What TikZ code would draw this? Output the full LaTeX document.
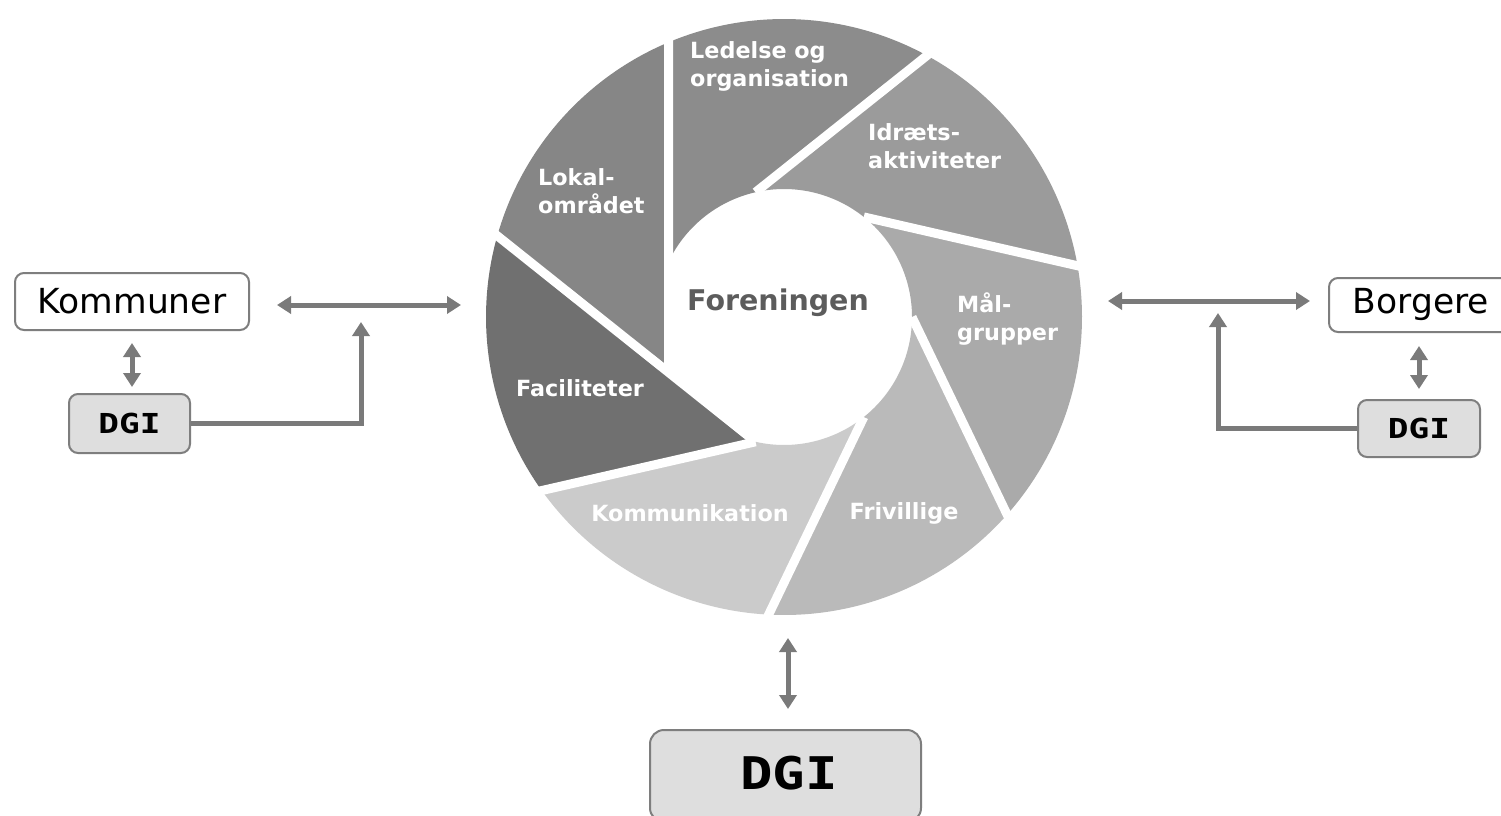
\documentclass[tikz,border=0pt]{standalone}
\usepackage{fontspec}
\setmainfont{DejaVu Sans}
\newfontfamily\dgifont{DejaVu Sans Mono}
\usetikzlibrary{arrows.meta,calc}
\definecolor{cLed}{HTML}{8C8C8C}
\definecolor{cIdr}{HTML}{9B9B9B}
\definecolor{cMal}{HTML}{AAAAAA}
\definecolor{cFri}{HTML}{BABABA}
\definecolor{cKom}{HTML}{CBCBCB}
\definecolor{cFac}{HTML}{707070}
\definecolor{cLok}{HTML}{868686}
\definecolor{arr}{HTML}{7A7A7A}
\definecolor{bgray}{HTML}{7E7E7E}
\definecolor{dgifill}{HTML}{DEDEDE}
\definecolor{fgray}{HTML}{5C5C5C}
\begin{document}
\begin{tikzpicture}[x=1pt,y=-1pt,
  box/.style={draw=bgray, line width=2pt, rounded corners=9pt, fill=white, inner sep=0pt},
  dgibox/.style={box, fill=dgifill},
  dbl/.style={draw=arr, line width=5pt, {Triangle[width=17pt,length=14pt]}-{Triangle[width=17pt,length=14pt]}},
  sgl/.style={draw=arr, line width=5pt, -{Triangle[width=17pt,length=14pt]}},
  blab/.style={text=white, font=\bfseries\fontsize{22.3}{28}\selectfont, align=left, inner sep=0pt},
  boxtext/.style={font=\fontsize{34.5}{40}\selectfont, text=black}
]
\useasboundingbox (0,0) rectangle (1501,816);
\clip (0,0) rectangle (1501,816);
\fill[white] (0,0) rectangle (1501,816);

\coordinate (C) at (784,317);

% blade tips and outer points
\foreach \k in {1,...,7}{
  \pgfmathsetmacro\n{180+(\k-1)*360/7}
  \pgfmathsetmacro\sa{\n+25.714}
  \pgfmathsetmacro\pa{\n+67.24}
  \coordinate (S\k) at ($(C)+(\sa:128)$);
  \coordinate (P\k) at ($(C)+(\pa:298)$);
}

% blades (inner edge: arc of the hole, or straight for the two left blades)
\foreach \k/\col/\st in {1/cLed/0,2/cIdr/0,3/cMal/0,4/cFri/0,5/cKom/0,6/cFac/1,7/cLok/1}{
  \pgfmathsetmacro\n{180+(\k-1)*360/7}
  \pgfmathsetmacro\m{\n+360/7}
  \pgfmathsetmacro\sa{\n+25.714}
  \pgfmathsetmacro\pa{\n+67.24}
  \pgfmathsetmacro\pb{\m+67.24}
  \pgfmathsetmacro\sb{\m+25.714}
  \ifnum\st=1
    \fill[\col] ($(C)+(\sa:128)$) -- ($(C)+(\pa:298)$)
       arc[start angle=\pa, end angle=\pb, radius=298]
       -- ($(C)+(\sb:128)$) -- cycle;
  \else
    \fill[\col] ($(C)+(\sa:128)$) -- ($(C)+(\pa:298)$)
       arc[start angle=\pa, end angle=\pb, radius=298]
       -- ($(C)+(\sb:128)$)
       arc[start angle=\sb, end angle=\sa, radius=128] -- cycle;
  \fi
}
% separators
\foreach \k in {2,...,6}{
  \draw[white, line width=9pt] (S\k) -- ($(S\k)!1.06!(P\k)$);
}
\draw[white, line width=9pt] (S7) -- ($(S1)!1.06!(P1)$);
\draw[white, line width=9pt] (S6) -- ($(S7)!1.06!(P7)$);

% blade labels
\node[blab, anchor=west] (led) at (690,66) {Ledelse og\\organisation};
\node[blab, anchor=west] (idr) at (868,146) {Idræts-\\aktiviteter};
\node[blab, anchor=west] (mal) at (957,319) {Mål-\\grupper};
\node[blab, anchor=west] (lok) at (538,191) {Lokal-\\området};
\node[blab] (fac) at (580,388) {Faciliteter};
\node[blab] (kmk) at (690,513) {Kommunikation};
\node[blab] (fri) at (904,513) {Frivillige};
\node[text=fgray, font=\bfseries\fontsize{28.5}{32}\selectfont, inner sep=0pt] (for) at (778,303) {Foreningen};

% boxes
\node[box, boxtext, minimum width=234pt, minimum height=57pt] (kom) at (132,301.5) {Kommuner};
\node[box, boxtext, minimum width=184pt, minimum height=54pt] (bor) at (1421,305) {Borgere};
\node[dgibox, minimum width=121pt, minimum height=59pt] (dgil) at (129.5,423.5) {\scalebox{1.25}[1]{\dgifont\bfseries\fontsize{27.5}{28}\selectfont DGI}};
\node[dgibox, minimum width=122pt, minimum height=57pt] (dgir) at (1419,428.5) {\scalebox{1.25}[1]{\dgifont\bfseries\fontsize{27.5}{28}\selectfont DGI}};
\node[dgibox, minimum width=271pt, minimum height=92pt, rounded corners=14pt] (dgib) at (785.5,776) {};
\node[inner sep=0pt] (dgibt) at (789,773) {\scalebox{1.2}[1]{\dgifont\bfseries\fontsize{45}{46}\selectfont DGI}};

% connectors
\coordinate (hl1) at (277,305);
\coordinate (hl2) at (461,305);
\draw[dbl] (hl1) -- (hl2);
\draw[dbl, shorten <=12pt, shorten >=6pt] (kom.south) -- (kom.south |- dgil.north);
\coordinate (lup) at (361,322);
\draw[sgl] (dgil.east) -| (lup);

\coordinate (hr1) at (1108,301);
\coordinate (hr2) at (1310,301);
\draw[dbl] (hr1) -- (hr2);
\draw[dbl, shorten <=13pt, shorten >=10pt] (bor.south -| dgir.north) -- (dgir.north);
\coordinate (rup) at (1218,313);
\draw[sgl] (dgir.west) -| (rup);

\coordinate (wb) at (788,638);
\draw[dbl, shorten >=20pt] (wb) -- (wb |- dgib.north);
\end{tikzpicture}
\end{document}
